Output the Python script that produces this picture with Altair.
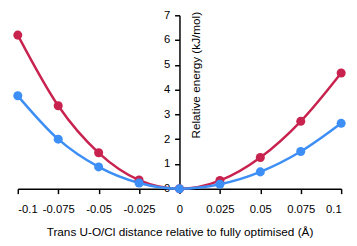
import altair as alt
import pandas as pd

x_vals = [-0.1, -0.075, -0.05, -0.025, 0, 0.025, 0.05, 0.075, 0.1]
red_vals = [6.2, 3.35, 1.45, 0.35, 0, 0.33, 1.26, 2.72, 4.67]
blue_vals = [3.75, 2.0, 0.88, 0.23, 0, 0.18, 0.68, 1.5, 2.64]
series_names = ["red", "blue"]
y_ticks = [0, 1, 2, 3, 4, 5, 6, 7]

rows = []
for name, vals in zip(series_names, [red_vals, blue_vals]):
    for xv, yv in zip(x_vals, vals):
        rows.append({"x": xv, "y": yv, "s": name})
df = pd.DataFrame(rows)

font = "Liberation Sans"
W, H = 330, 177

xenc = alt.X("x:Q", scale=alt.Scale(domain=[-0.1, 0.1], nice=False),
             axis=alt.Axis(values=x_vals, labelExpr="toString(datum.value)",
                           grid=False, domainColor="black", domainWidth=1.5,
                           tickColor="black", tickWidth=1.5, tickSize=5,
                           labelPadding=10, labelFont=font, labelFontSize=11.5,
                           labelColor="black", title="Trans U-O/Cl distance relative to fully optimised (Å)",
                           titleFont=font, titleFontSize=12, titleFontWeight="normal",
                           titleColor="black", titlePadding=12))
yenc = alt.Y("y:Q", scale=alt.Scale(domain=[0, 7], nice=False),
             axis=alt.Axis(values=y_ticks, grid=False, orient="left", offset=-W / 2,
                           domainColor="black", domainWidth=1.5,
                           tickColor="black", tickWidth=1.5, tickSize=5,
                           labelPadding=5, labelFont=font, labelFontSize=11.5,
                           labelColor="black", title="Relative energy (kJ/mol)",
                           titleFont=font, titleFontSize=12, titleFontWeight="normal",
                           titleColor="black", titleAngle=-90, titleX=11, titleY=-4,
                           titleAlign="right", titleBaseline="top"))
color = alt.Color("s:N", scale=alt.Scale(domain=series_names, range=["#C8234F", "#3D8EF5"]),
                  legend=None)

base = alt.Chart(df).encode(x=xenc, y=yenc, color=color, detail="s:N")
lines = base.mark_line(interpolate="monotone", strokeWidth=2.5)
pts = base.mark_circle(size=85, opacity=1)

chart = alt.layer(lines, pts).properties(
    width=W, height=H,
    padding={"left": 10, "top": 5, "right": 8, "bottom": 56},
    autosize=alt.AutoSizeParams(type="none"),
).configure_view(stroke=None)

chart.save("out.html", embed_options={"renderer": "svg", "actions": False})
